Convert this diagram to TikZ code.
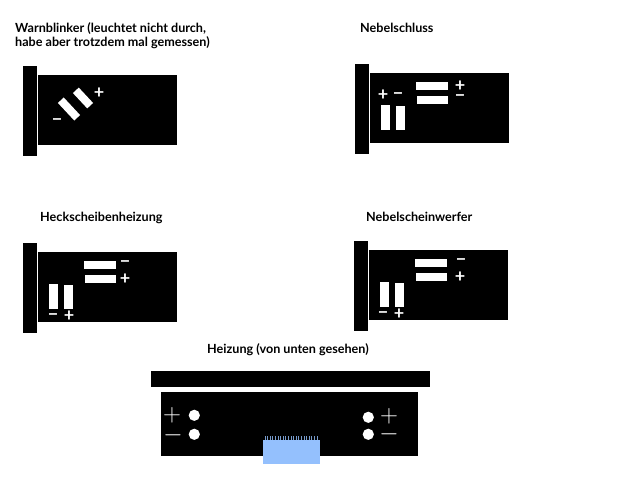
\documentclass[tikz,border=0pt]{standalone}
\usepackage{fontspec}
\setmainfont{Lato}
\tikzset{
	titel/.style={anchor=west,inner sep=0pt,font=\fontsize{12.6}{14}\selectfont\bfseries,align=left},
	zeichen/.style={white,inner sep=0pt,font=\fontsize{18}{18}\selectfont\bfseries},
	duenn/.style={white,inner sep=0pt,font=\fontsize{24}{24}\selectfont}
}
\definecolor{kamm}{RGB}{148,192,253}
\begin{document}
\begin{tikzpicture}[x=1pt,y=-1pt]
	\useasboundingbox(0,0)rectangle(640,480);
	% titles
	\node[titel] (warn) at (15,36) {Warnblinker (leuchtet nicht durch,\\habe aber trotzdem mal gemessen)};
	\node[titel] (schluss) at (360,27.5) {Nebelschluss};
	\node[titel] (heck) at (40,217.5) {Heckscheibenheizung};
	\node[titel] (werfer) at (366,216.5) {Nebelscheinwerfer};
	\node[titel] (heiz) at (207,349.5) {Heizung (von unten gesehen)};
	% switches
	\foreach \x/\y in {23/66,355/64,23/243,354/241} {
		\fill(\x,\y)rectangle(\x+14,\y+90);
		\fill(\x+15,\y+9)rectangle(\x+154,\y+79);
	}
	\foreach \x/\y in {355/64,23/243,354/241} {
		\fill[white](\x+61,\y+18)rectangle(\x+93,\y+26);
		\fill[white](\x+62,\y+32)rectangle(\x+93,\y+40);
		\fill[white](\x+26,\y+41)rectangle(\x+35,\y+66);
		\fill[white](\x+41,\y+42)rectangle(\x+50,\y+66);
	}
	\fill[white,rotate around={-47:(69,109)}](57,105)rectangle(81,113);
	\fill[white,rotate around={-47:(83,98)}](72.5,94)rectangle(93.5,102);
	\foreach \x/\y/\s [count=\i] in {99/93/+,57/122.5/−,460/86/+,460/98.5/−,383/95.5/+,398/96/−,
		125/264/−,125/279/+,53/317/−,69/316/+,461/262/−,460/277/+,383/315/−,399/314/+} {
		\node[zeichen] (s\i) at (\x,\y) {\s};
	}
	% heating
	\fill(151,371)rectangle(430,387);
	\fill(161,392)rectangle(418,456);
	\foreach \x in {265,267.6,...,319} {
		\draw[kamm!80!black,line width=.7pt](\x,436)--(\x,441);
	}
	\fill[kamm](263,440)rectangle(320,464);
	\foreach \x/\y in {194.3/415.3,194.3/434.3,368.3/417.3,368.3/434.3} {
		\fill[white](\x,\y)circle(5.6);
	}
	\node[duenn] (p1) at (172,415) {$+$};
	\node[duenn] (m1) at (173,435.5) {$-$};
	\node[duenn] (p2) at (389,416) {$+$};
	\node[duenn] (m2) at (389,434.5) {$-$};
\end{tikzpicture}
\end{document}
